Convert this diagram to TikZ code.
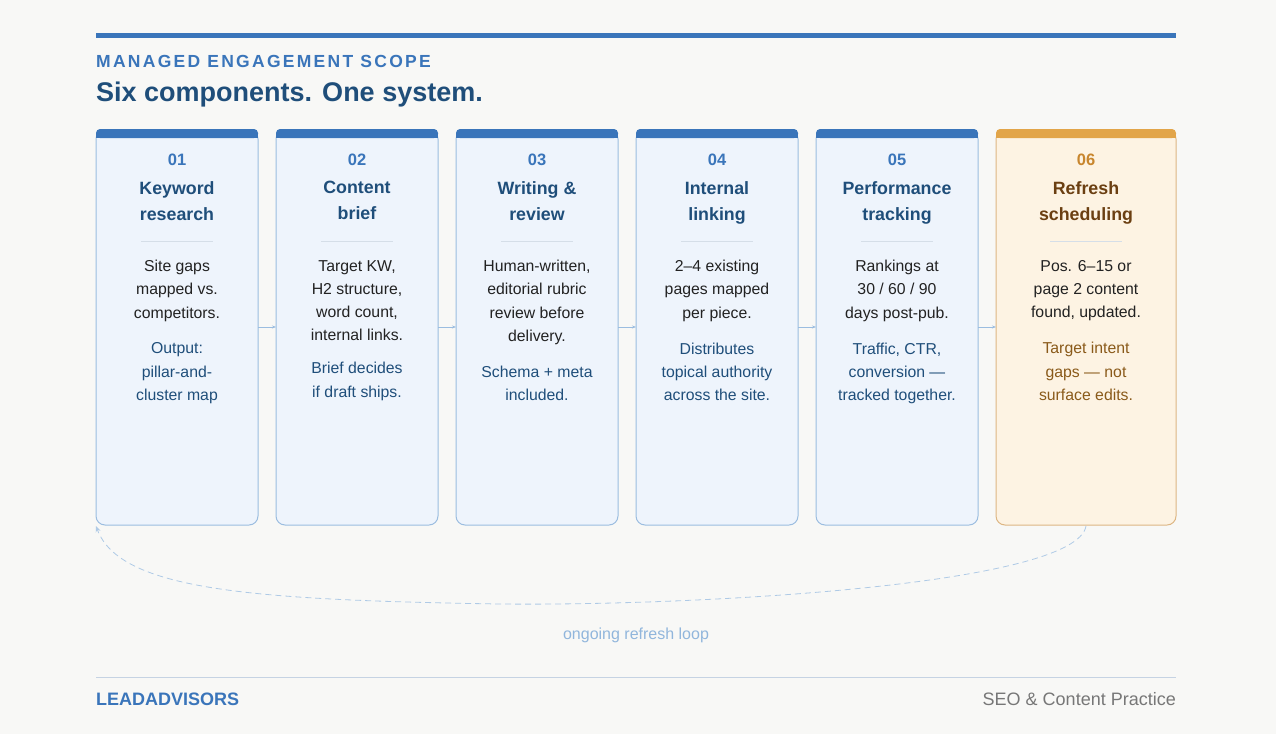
\documentclass[tikz,border=0pt]{standalone}
\usepackage{fontspec}
\setmainfont{Liberation Sans}
\usetikzlibrary{arrows.meta,positioning}
\definecolor{bg}{HTML}{F8F8F6}
\definecolor{blu}{HTML}{3A75BA}
\definecolor{dblu}{HTML}{1F4E7A}
\definecolor{cfill}{HTML}{EEF4FC}
\definecolor{cbord}{HTML}{9BBDE0}
\definecolor{ofill}{HTML}{FDF3E3}
\definecolor{obord}{HTML}{DDB683}
\definecolor{obar}{HTML}{E2A549}
\definecolor{onum}{HTML}{C8862E}
\definecolor{otit}{HTML}{6B3F12}
\definecolor{onote}{HTML}{8A5A1A}
\definecolor{sep}{HTML}{D5DEE8}
\definecolor{grey}{HTML}{777777}
\definecolor{txt}{HTML}{222222}
\tikzset{
  num/.style={font=\bfseries\fontsize{16.5}{20}\selectfont, anchor=center},
  tit/.style={font=\bfseries\fontsize{17.8}{26}\selectfont, align=center, anchor=north, inner sep=0pt},
  body/.style={font=\fontsize{15.8}{23.3}\selectfont, align=center, anchor=north, inner sep=0pt, text=txt},
  conn/.style={draw=cbord, line width=0.8pt, -{Stealth[length=4pt,width=3pt]}},
}
\newcommand{\card}[9]{%
  \fill[#7,draw=#8,line width=1pt,rounded corners=9pt] (#2,130) rectangle ++(\cw,395);
  \node[draw=none,minimum width=\cw pt,minimum height=395pt,inner sep=0pt,anchor=north west] (#1) at (#2,130) {};
  \fill[#9,rounded corners=4pt] (#2,129) rectangle ++(\cw,9);
  \fill[#9] (#2,133) rectangle ++(\cw,5);
  \node[num,text=\numc] (#1n) at (#2+\cw/2,160) {#3};
  \node[tit,text=\titc] (#1t) at (#2+\cw/2,181) {#4};
  \draw[sep,line width=1pt] (#2+\cw/2-36,241) -- (#2+\cw/2+36,241);
  \node[body] (#1b) at (#2+\cw/2,260) {#5};
  \node[body,text=\notec,below=21pt of #1b.south,anchor=north] (#1o) {#6};
}
\begin{document}
\begin{tikzpicture}[x=1pt,y=-1pt]
\fill[bg] (0,0) rectangle (1276,734);
\useasboundingbox (0,0) rectangle (1276,734);
\fill[blu] (96,32.5) rectangle (1176,37.5);
\node[anchor=base west,inner sep=0pt,text=blu,font=\bfseries\fontsize{17.5}{20}\selectfont] (kick) at (96,67) {\addfontfeature{LetterSpace=13}MANAGED ENGAGEMENT SCOPE};
\node[anchor=base west,inner sep=0pt,text=dblu,font=\bfseries\fontsize{27}{30}\selectfont] (head) at (96,101) {Six components. One system.};
\def\numc{blu}\def\titc{dblu}\def\notec{dblu}\def\cw{162}
\card{c1}{96}{01}{Keyword\\research}{Site gaps\\mapped vs.\\competitors.}{Output:\\pillar-and-\\cluster map}{cfill}{cbord}{blu}
\card{c2}{276}{02}{Content\\brief}{Target KW,\\H2 structure,\\word count,\\internal links.}{Brief decides\\if draft ships.}{cfill}{cbord}{blu}
\card{c3}{456}{03}{Writing \&\\review}{Human-written,\\editorial rubric\\review before\\delivery.}{Schema + meta\\included.}{cfill}{cbord}{blu}
\card{c4}{636}{04}{Internal\\linking}{2–4 existing\\pages mapped\\per piece.}{Distributes\\topical authority\\across the site.}{cfill}{cbord}{blu}
\card{c5}{816}{05}{Performance\\tracking}{Rankings at\\30 / 60 / 90\\days post-pub.}{Traffic, CTR,\\conversion —\\tracked together.}{cfill}{cbord}{blu}
\def\numc{onum}\def\titc{otit}\def\notec{onote}\def\cw{180}
\card{c6}{996}{06}{Refresh\\scheduling}{Pos. 6–15 or\\page 2 content\\found, updated.}{Target intent\\gaps — not\\surface edits.}{ofill}{obord}{obar}
\foreach \a/\b in {c1/c2,c2/c3,c3/c4,c4/c5,c5/c6}{
  \draw[conn] (\a.east|-0,327) -- (\b.west|-0,327);
}
\coordinate (ls) at (1086,526);
\coordinate (le) at (96,526);
\draw[cbord!80,line width=0.8pt,dash pattern=on 6pt off 4pt,-{Stealth[length=6pt,width=5pt]}]
  (ls) .. controls (1076,585) and (700,606) .. (500,604)
  .. controls (250,600) and (120,590) .. (le);
\node[text=cbord!90!blu,font=\fontsize{16}{18}\selectfont] (loop) at (636,635) {ongoing refresh loop};
\draw[sep!90!blu,line width=1.2pt] (96,677.5) -- (1176,677.5);
\node[anchor=base west,inner sep=0pt,text=blu,font=\bfseries\fontsize{18}{20}\selectfont] (brand) at (96,705) {LEADADVISORS};
\node[anchor=base east,inner sep=0pt,text=grey,font=\fontsize{18}{20}\selectfont] (prac) at (1176,705) {SEO \& Content Practice};
\end{tikzpicture}
\end{document}
